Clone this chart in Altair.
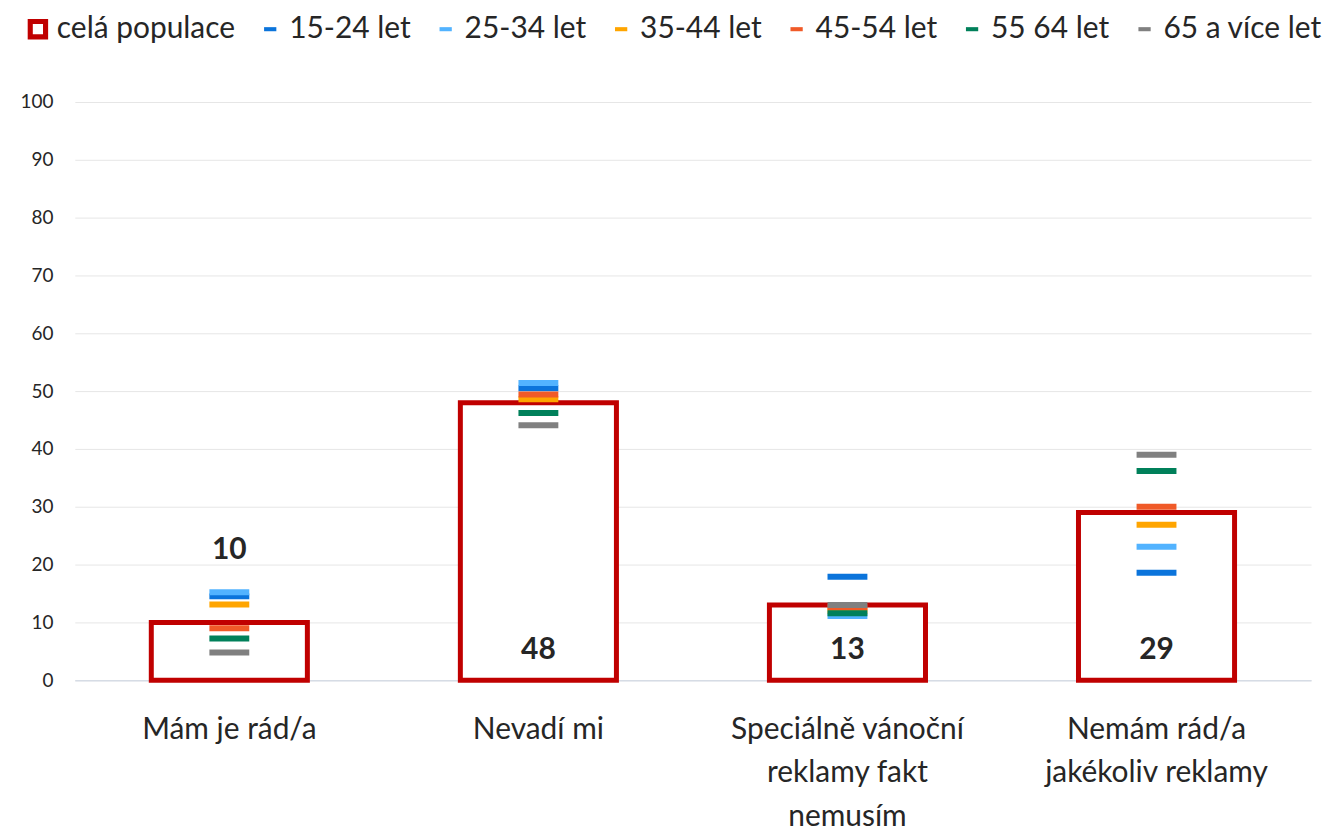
import altair as alt
import pandas as pd

categories = ["Mám je rád/a", "Nevadí mi", "Speciálně vánoční\nreklamy fakt\nnemusím", "Nemám rád/a\njakékoliv reklamy"]
total_name = "celá populace"
total = [10, 48, 13, 29]
series = ["15-24 let", "25-34 let", "35-44 let", "45-54 let", "55 64 let", "65 a více let"]
v_15_24 = [14.5, 50.5, 17.9, 18.6]
v_25_34 = [15.2, 51.4, 11.1, 23.1]
v_35_44 = [13.1, 48.6, 12.0, 26.9]
v_45_54 = [9.0, 49.4, 12.6, 30.0]
v_55_64 = [7.2, 46.2, 11.6, 36.2]
v_65 = [4.8, 44.1, 13.0, 39.0]
colors = ["#C00000", "#0B74DB", "#52B3FF", "#FFA500", "#F05A28", "#00805A", "#808080"]

FONT = "Lato"
series_vals = [v_15_24, v_25_34, v_35_44, v_45_54, v_55_64, v_65]
rows = []
for s, vals in zip(series, series_vals):
    for c, v in zip(categories, vals):
        rows.append({"cat": c, "series": s, "value": v})
df_ticks = pd.DataFrame(rows)
df_tot = pd.DataFrame({"cat": categories, "value": total})
df_leg = pd.DataFrame({"cat": [categories[0]] * 7, "series": [total_name] + series, "value": [0] * 7})

dom = [total_name] + series
square_hole = "M-1,-1H1V1H-1Z M-0.5,-0.5V0.5H0.5V-0.5Z"
dash = "M-0.6,-0.2H0.6V0.2H-0.6Z"
color_scale = alt.Scale(domain=dom, range=colors)
shape_scale = alt.Scale(domain=dom, range=[square_hole] + [dash] * 6)

legend = alt.Legend(orient="none", legendX=-52, legendY=-88, direction="horizontal",
                    labelFontSize=30, labelFont=FONT, labelColor="#262626",
                    symbolSize=420, symbolOpacity=1, symbolStrokeWidth=0,
                    columnPadding=20, labelOffset=4, labelLimit=400)

x_enc = alt.X("cat:N", sort=categories, title=None,
              scale=alt.Scale(paddingInner=0, paddingOuter=0),
              axis=alt.Axis(labelAngle=0, ticks=False, domainColor="#D6DCE5", domainWidth=1.5,
                            labelFontSize=30, labelLineHeight=44, labelPadding=34, labelLimit=500,
                            labelColor="#262626", labelFont=FONT, labelBaseline="top",
                            labelExpr="split(datum.value, '\\n')"))
y_enc = alt.Y("value:Q", title=None,
              scale=alt.Scale(domain=[0, 100], nice=False),
              axis=alt.Axis(values=list(range(0, 101, 10)), ticks=False, domain=False,
                            gridColor="#E6E6E6", labelFontSize=19, labelColor="#262626",
                            labelFont=FONT, labelPadding=22, minExtent=62))

bars = alt.Chart(df_tot).mark_bar(fill="white", stroke="#C00000", strokeWidth=5,
                                  width=alt.RelativeBandSize(0.505)).encode(x=x_enc, y=y_enc)

ticks = alt.Chart(df_ticks).mark_tick(size=40, thickness=6, opacity=1).encode(
    x=alt.X("cat:N", sort=categories),
    y="value:Q",
    color=alt.Color("series:N", scale=color_scale, title=None, legend=legend),
)

legend_layer = alt.Chart(df_leg).mark_point(filled=True, opacity=0).encode(
    x=alt.X("cat:N", sort=categories),
    y="value:Q",
    color=alt.Color("series:N", scale=color_scale, title=None, legend=legend),
    shape=alt.Shape("series:N", scale=shape_scale, title=None, legend=legend),
)

labels = alt.Chart(df_tot).transform_calculate(
    pos=f"datum.cat === '{categories[0]}' ? 22.6 : 5.2"
).mark_text(fontSize=30, fontWeight="bold", color="#262626", font=FONT, baseline="middle").encode(
    x=alt.X("cat:N", sort=categories),
    y="pos:Q",
    text="value:Q",
)

chart = alt.layer(bars, ticks, legend_layer, labels).properties(
    width=1240, height=580
).configure_view(stroke=None)

chart.save("out.html", embed_options={"renderer": "svg", "actions": False})
